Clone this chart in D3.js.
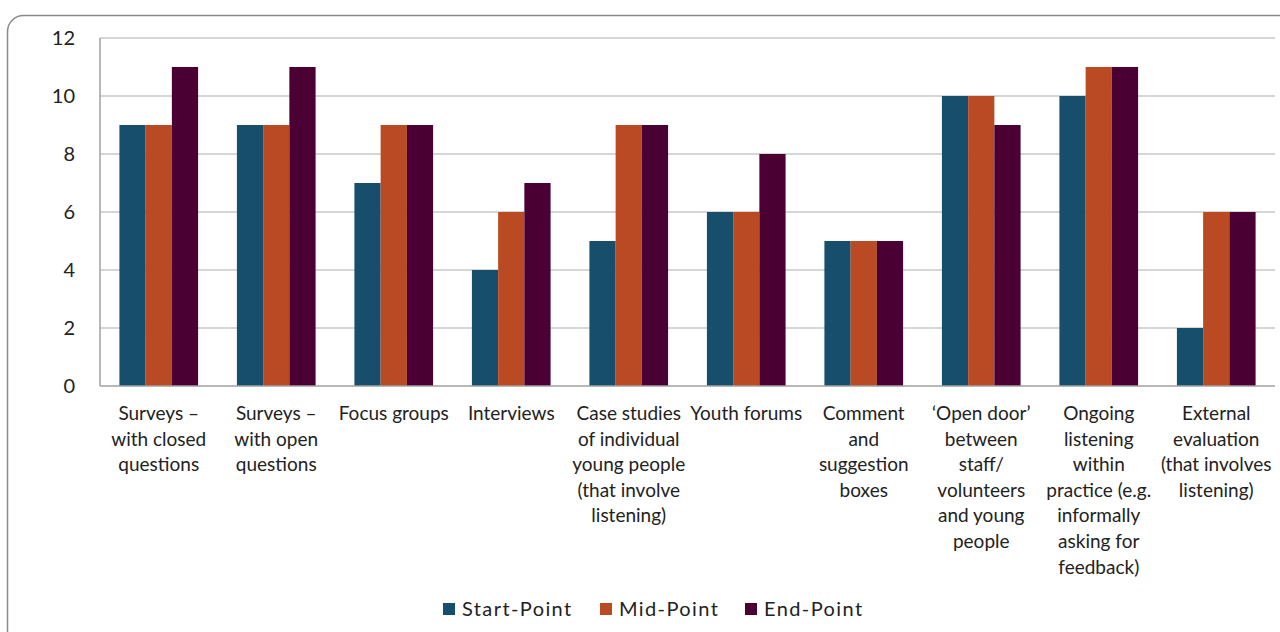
<!DOCTYPE html>
<html><head><meta charset="utf-8">
<script src="https://cdn.jsdelivr.net/npm/d3@7"></script>
<style>body{margin:0;background:#fff;}svg{display:block;}</style>
</head><body><svg id="c" width="1280" height="632"></svg>
<script>
const categories = [
  ["Surveys –","with closed","questions"],
  ["Surveys –","with open","questions"],
  ["Focus groups"],
  ["Interviews"],
  ["Case studies","of individual","young people","(that involve","listening)"],
  ["Youth forums"],
  ["Comment","and","suggestion","boxes"],
  ["‘Open door’","between","staff/","volunteers","and young","people"],
  ["Ongoing","listening","within","practice (e.g.","informally","asking for","feedback)"],
  ["External","evaluation","(that involves","listening)"]
];
const seriesNames = ["Start-Point","Mid-Point","End-Point"];
const startPoint = [9,9,7,4,5,6,5,10,10,2];
const midPoint   = [9,9,9,6,9,6,5,10,11,6];
const endPoint   = [11,11,9,7,9,8,5,9,11,6];
const yTicks = [0,2,4,6,8,10,12];
const colors = ["#174e6c","#b94a23","#4b0033"];

const seriesValues = [startPoint, midPoint, endPoint];
const svg = d3.select("#c");
const font = "Lato, 'Noto Sans', sans-serif";

// frame
svg.append("rect").attr("x",7.5).attr("y",15.5).attr("width",1300).attr("height",660)
  .attr("rx",16).attr("fill","none").attr("stroke","#8a8a8a").attr("stroke-width",1.5);

const pLeft = 100, pRight = 1275, pTop = 38, pBottom = 386;
const x0 = d3.scaleBand().domain(d3.range(categories.length)).range([pLeft,pRight]);
const x1 = d3.scaleBand().domain(d3.range(seriesNames.length)).range([0,x0.bandwidth()]).paddingOuter(0.74);
const y = d3.scaleLinear().domain([0,12]).range([pBottom,pTop]);

// gridlines
svg.append("g").selectAll("line").data(yTicks.filter(d=>d>0)).join("line")
  .attr("x1",pLeft).attr("x2",pRight).attr("y1",d=>y(d)).attr("y2",d=>y(d))
  .attr("stroke","#c9c9c9").attr("stroke-width",1.5);

// bars
const g = svg.append("g");
categories.forEach((c,i)=>{
  seriesValues.forEach((vals,s)=>{
    g.append("rect")
      .attr("x",x0(i)+x1(s)).attr("width",x1.bandwidth())
      .attr("y",y(vals[i])).attr("height",y(0)-y(vals[i]))
      .attr("fill",colors[s]);
  });
});

// axes lines
svg.append("line").attr("x1",pLeft).attr("x2",pLeft).attr("y1",pTop).attr("y2",pBottom)
  .attr("stroke","#a0a0a0").attr("stroke-width",1.5);
svg.append("line").attr("x1",pLeft).attr("x2",pRight).attr("y1",pBottom).attr("y2",pBottom)
  .attr("stroke","#a0a0a0").attr("stroke-width",1.5);

// y tick labels
const yAxis = d3.axisLeft(y).tickValues(yTicks).tickSize(0).tickPadding(25);
const ya = svg.append("g").attr("transform",`translate(${pLeft},0)`).call(yAxis);
ya.select(".domain").remove();
ya.selectAll("text").attr("font-family",font).attr("font-size",20).attr("fill","#222");

// category labels
const xl = svg.append("g");
categories.forEach((lines,i)=>{
  const t = xl.append("text").attr("text-anchor","middle")
    .attr("font-family",font).attr("font-size",19).attr("fill","#222");
  lines.forEach((ln,k)=>{
    t.append("tspan").attr("x",x0(i)+x0.bandwidth()/2).attr("y",420+k*25.6).text(ln);
  });
});

// legend
const legendX = [443,600,745];
const lg = svg.append("g");
seriesNames.forEach((n,s)=>{
  lg.append("rect").attr("x",legendX[s]).attr("y",603).attr("width",12).attr("height",12).attr("fill",colors[s]);
  lg.append("text").attr("x",legendX[s]+19).attr("y",616).attr("font-family",font)
    .attr("font-size",20).attr("letter-spacing",1.4).attr("fill","#222").text(n);
});
</script></body></html>
